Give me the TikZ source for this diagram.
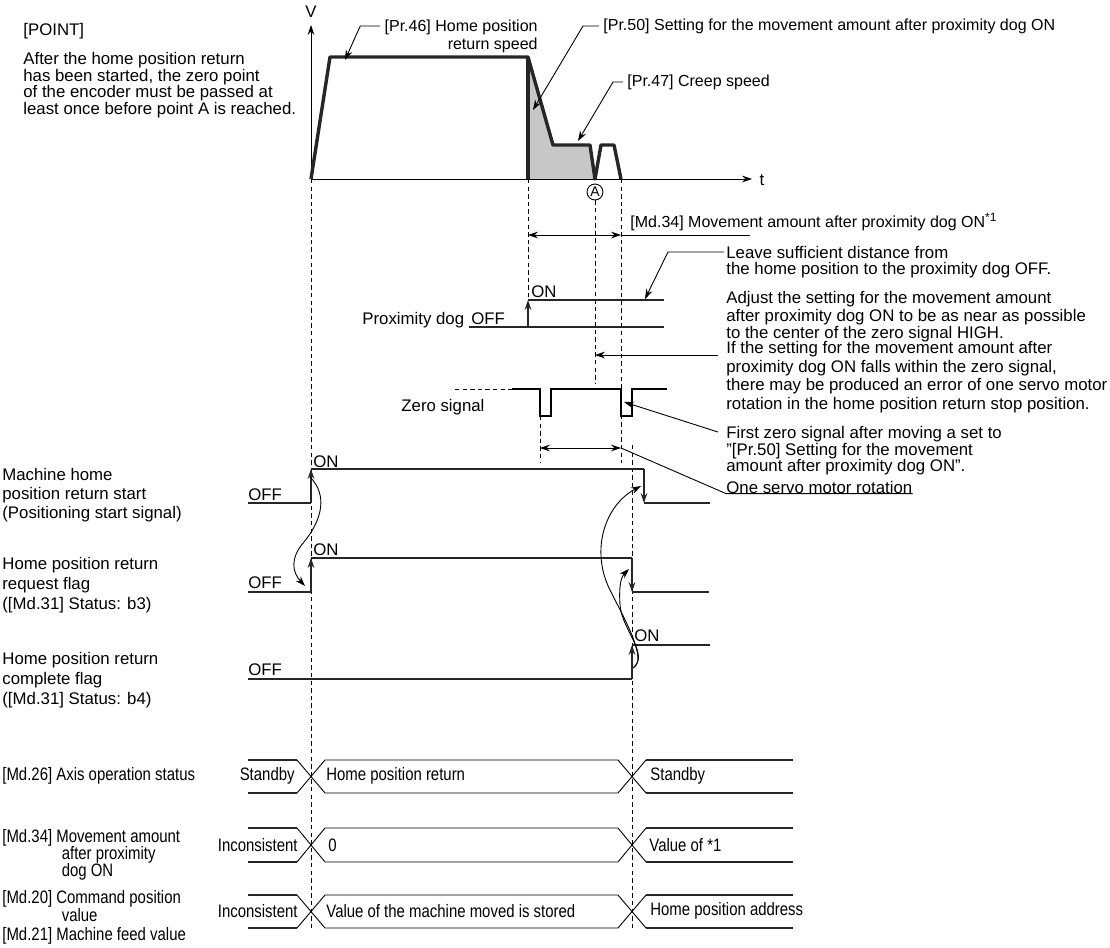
\documentclass[tikz,border=0pt]{standalone}
\usepackage{fontspec}
\setmainfont{Liberation Sans}
\newfontfamily\narrowfont[FakeStretch=0.83]{Liberation Sans}
\usetikzlibrary{arrows.meta}

\begin{document}
\begin{tikzpicture}[x=0.5pt, y=-0.5pt,
    font=\fontsize{8.4}{9}\selectfont,
    >={Stealth[length=5pt,width=3.4pt]},
    sig/.style={line width=1pt, black!85},
    prof/.style={line width=1.7pt, black!85, line join=round},
    guide/.style={dash pattern=on 2.2pt off 1.6pt, line width=0.45pt},
    lead/.style={line width=0.45pt},
    txt/.style={inner sep=0pt, anchor=west, align=left},
    toplab/.style={txt, font=\fontsize{8}{9}\selectfont},
    bus/.style={font=\narrowfont\fontsize{9}{9}\selectfont, inner sep=0pt},
]
\useasboundingbox (0,0) rectangle (1110,948);

\node[txt] (point) at (23,31) {[POINT]};
\node[txt, anchor=north west, font=\fontsize{8.4}{8.35}\selectfont] (pointtxt) at (23,52)
  {After the home position return\\has been started, the zero point\\of the encoder must be passed at\\least once before point A is reached.};

\fill[black!22] (528,57) -- (553,145) -- (590,145) -- (595,179) -- (528,179) -- cycle;
\draw[->, lead] (311,179) -- (311,25);
\draw[->, lead] (311,179) -- (752,179);
\node (vlab) at (311,12) {V};
\node (tlab) at (762,180) {t};
\draw[prof] (311,179) -- (330,57) -- (528,57) -- (553,145) -- (590,145) -- (595,179) -- (601,145) -- (614,145) -- (621,179);
\draw[prof] (528,57) -- (528,179);
\node[circle, draw, line width=0.45pt, minimum size=8pt, inner sep=0pt, font=\fontsize{7}{7}\selectfont] (ptA) at (595,192) {A};

\node[toplab, anchor=north east, align=right] (pr46) at (538,20) {[Pr.46] Home position\\return speed};
\node[toplab] (pr50) at (603,26) {[Pr.50] Setting for the movement amount after proximity dog ON};
\node[toplab] (pr47) at (627,82) {[Pr.47] Creep speed};
\draw[lead, ->] ([xshift=-2pt, yshift=-3pt]pr46.north west) -- ++(-20,0) -- (345,60);
\draw[lead, ->] ([xshift=-2pt]pr50.west) -- ++(-16,0) -- (533,110);
\draw[lead, ->] ([xshift=-2pt]pr47.west) -- ++(-10,0) -- (578,141);

\draw[guide] (311,179) -- (311,928);
\draw[guide] (528,179) -- (528,300);
\draw[guide] (ptA.south) -- (595,383);
\draw[guide] (621,179) -- (621,463);
\draw[guide] (540,416) -- (540,463);
\draw[guide] (632,445) -- (632,928);

\node[toplab] (md34) at (630,222) {[Md.34] Movement amount after proximity dog ON\textsuperscript{*1}};
\draw[lead, <->] (528,235) -- (621,235);
\draw[lead] (621,235) -- (750,235);

\node[txt, anchor=north west, font=\fontsize{8.4}{8}\selectfont] (leave) at (726,246)
  {Leave sufficient distance from\\the home position to the proximity dog OFF.};
\node[txt, anchor=north west, font=\fontsize{8.4}{7.75}\selectfont] (adjust) at (726,291)
  {Adjust the setting for the movement amount\\after proximity dog ON to be as near as possible\\to the center of the zero signal HIGH.};
\node[txt, anchor=north west, font=\fontsize{8.4}{9.3}\selectfont] (ifset) at (726,341)
  {If the setting for the movement amount after\\proximity dog ON falls within the zero signal,\\there may be produced an error of one servo motor\\rotation in the home position return stop position.};
\node[txt, anchor=north west, font=\fontsize{8.4}{8.25}\selectfont] (first) at (726,426)
  {First zero signal after moving a set to\\"[Pr.50] Setting for the movement\\amount after proximity dog ON".};
\node[txt] (onerot) at (726,487) {One servo motor rotation};

\draw[lead, ->] ([xshift=-1pt, yshift=-3pt]leave.north west) -- ++(-56,0) -- (645,299);
\draw[lead, ->] ([xshift=-4pt, yshift=-7pt]ifset.north west) -- ++(-123,0);
\draw[lead, ->] ([xshift=-4pt, yshift=-3pt]first.north west) -- (624,402);
\draw[lead, <->] (540,448) -- (621,448);
\draw[lead] (621,448) -- (onerot.south west) -- (onerot.south east);

\node[txt] (doglab) at (362,320) {Proximity dog};
\node[txt] (dogoff) at (471,319) {OFF};
\node[txt] (dogon) at (531,292) {ON};
\draw[sig] (469,327) -- (528,327) (528,300) -- (664,300) (528,327) -- (664,327);
\draw[sig, ->] (528,327) -- (528,300);

\node[txt] (zerolab) at (401,407) {Zero signal};
\draw[guide] (455,389) -- (512,389);
\draw[lead, line width=0.6pt] (512,389) -- (540,389) -- (540,416) -- (551,416) -- (551,389) -- (621,389) -- (621,416) -- (632,416) -- (632,389) -- (667,389);

\node[txt, anchor=north west, font=\fontsize{8.4}{9.5}\selectfont] (startlab) at (2,468)
  {Machine home\\position return start\\(Positioning start signal)};
\node[txt] (startoff) at (248,495) {OFF};
\node[txt] (starton) at (313,462) {ON};
\draw[sig] (248,503) -- (311,503) (311,469) -- (644,469) (644,503) -- (710,503);
\draw[sig, ->] (311,503) -- (311,469);
\draw[sig, ->] (644,469) -- (644,503);

\node[txt, anchor=north west, font=\fontsize{8.4}{10}\selectfont] (reqlab) at (2,557)
  {Home position return\\request flag\\([Md.31] Status: b3)};
\node[txt] (reqoff) at (248,583) {OFF};
\node[txt] (reqon) at (313,550) {ON};
\draw[sig] (248,592) -- (311,592) (311,558) -- (632,558) (632,592) -- (709,592);
\draw[sig, ->] (311,592) -- (311,558);
\draw[sig, ->] (632,558) -- (632,592);

\node[txt, anchor=north west, font=\fontsize{8.4}{10}\selectfont] (cmplab) at (2,652)
  {Home position return\\complete flag\\([Md.31] Status: b4)};
\node[txt] (cmpoff) at (248,670) {OFF};
\node[txt] (cmpon) at (634,636) {ON};
\draw[sig] (248,679) -- (632,679) (632,645) -- (710,645);
\draw[sig, ->] (632,679) -- (632,645);

\draw[lead, ->] (310,477) .. controls (328,495) and (322,520) .. (304,542) .. controls (290,558) and (292,572) .. (305,586);
\draw[lead, ->] (633,668) .. controls (648,660) and (625,620) .. (610,590) .. controls (590,550) and (605,505) .. (641,486);
\draw[lead, ->] (633,668) .. controls (650,655) and (622,630) .. (620,605) .. controls (619,590) and (620,578) .. (629,569);

\foreach \yt/\yb in {760/793, 828/862, 895/928} {
  \draw[lead] (297,\yt) -- (325,\yb) -- (618,\yb) -- (646,\yt);
  \draw[lead] (297,\yb) -- (325,\yt) -- (618,\yt) -- (646,\yb);
  \draw[sig] (248,\yt) -- (297,\yt) (248,\yb) -- (297,\yb) (646,\yt) -- (793,\yt) (646,\yb) -- (793,\yb);
}

\node[bus, anchor=west] (md26lab) at (2,776) {[Md.26] Axis operation status};
\node[bus, anchor=north west, align=left, font=\narrowfont\fontsize{9}{8.4}\selectfont] (md34lab) at (2,829)
  {[Md.34] Movement amount\\\hspace*{3.3em}after proximity\\\hspace*{3.3em}dog ON};
\node[bus, anchor=north west, align=left, font=\narrowfont\fontsize{9}{9}\selectfont] (md20lab) at (2,890)
  {[Md.20] Command position\\\hspace*{3.3em}value\\[0.5pt][Md.21] Machine feed value};

\node[bus, anchor=east] (st1) at (295,776) {Standby};
\node[bus, anchor=west] (st2) at (326,776) {Home position return};
\node[bus, anchor=west] (st3) at (650,776) {Standby};
\node[bus, anchor=east] (mv1) at (298,845) {Inconsistent};
\node[bus, anchor=west] (mv2) at (328,845) {0};
\node[bus, anchor=west] (mv3) at (649,845) {Value of *1};
\node[bus, anchor=east] (cp1) at (298,911) {Inconsistent};
\node[bus, anchor=west] (cp2) at (326,911) {Value of the machine moved is stored};
\node[bus, anchor=west] (cp3) at (650,911) {Home position address};

\end{tikzpicture}
\end{document}
